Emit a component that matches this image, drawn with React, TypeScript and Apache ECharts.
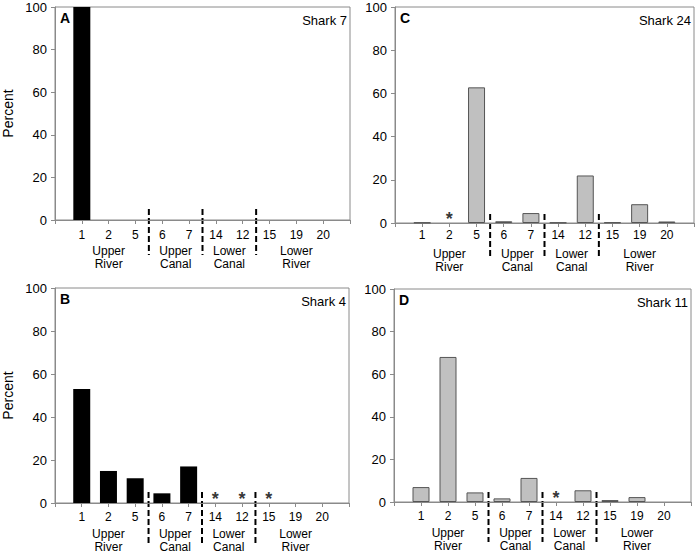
import React, { useEffect, useRef } from "react";
import * as echarts from "echarts";

const categories = ["1", "2", "5", "6", "7", "14", "12", "15", "19", "20"];
const groupNames = ["Upper\nRiver", "Upper\nCanal", "Lower\nCanal", "Lower\nRiver"];
const groupSizes = [3, 2, 2, 3];

const shark7 = [100, 0, 0, 0, 0, 0, 0, 0, 0, 0];
const shark4 = [53.0, 14.9, 11.5, 4.5, 17.0, 0, 0, 0, 0, 0];
const shark24 = [0.2, 0, 62.8, 0.8, 4.6, 0.2, 22.0, 0.3, 8.7, 0.7];
const shark11 = [7.0, 68.1, 4.5, 1.7, 11.3, 0, 5.5, 0.9, 2.3, 0];

const stars7: string[] = [];
const stars4 = ["14", "12", "15"];
const stars24 = ["2"];
const stars11 = ["14"];

const yMin = 0;
const yMax = 100;
const yStep = 20;

const FONT = "Liberation Sans, Arial, Helvetica, sans-serif";
const AXIS_GRAY = "#8a8a8a";

const panels = [
  { letter: "A", title: "Shark 7", values: shark7, stars: stars7, fill: "#000", stroke: "#000", grid: { left: 55, top: 7, width: 295, height: 213 }, yName: "Percent", labelMargin: 9, sep: [-11, 35] },
  { letter: "B", title: "Shark 4", values: shark4, stars: stars4, fill: "#000", stroke: "#000", grid: { left: 53, top: 288, width: 296, height: 215 }, yName: "Percent", labelMargin: 8, sep: [-11, 43] },
  { letter: "C", title: "Shark 24", values: shark24, stars: stars24, fill: "#c0c0c0", stroke: "#555", grid: { left: 395, top: 7, width: 299, height: 216 }, yName: "", labelMargin: 6, sep: [-9, 36] },
  { letter: "D", title: "Shark 11", values: shark11, stars: stars11, fill: "#c0c0c0", stroke: "#555", grid: { left: 394, top: 289, width: 297, height: 213 }, yName: "", labelMargin: 8, sep: [-10, 40] },
];

export default function App() {
  const ref = useRef<HTMLDivElement>(null);
  useEffect(() => {
    if (!ref.current) return;
    const chart = echarts.init(ref.current, null, { renderer: "svg" });
    const option: any = {
      animation: false,
      backgroundColor: "#fff",
      textStyle: { fontFamily: FONT },
      grid: panels.map((p) => ({
        ...p.grid,
        show: true,
        borderColor: AXIS_GRAY,
        borderWidth: 1,
        backgroundColor: "transparent",
        containLabel: false,
      })),
      xAxis: panels.map((p, i) => ({
        type: "value",
        gridIndex: i,
        min: 0,
        max: categories.length + 1,
        interval: 1,
        axisLine: { show: true, lineStyle: { color: AXIS_GRAY, width: 1 } },
        axisTick: { show: true, length: 4, lineStyle: { color: AXIS_GRAY } },
        splitLine: { show: false },
        axisLabel: {
          show: true,
          margin: p.labelMargin,
          fontSize: 12,
          color: "#000",
          fontFamily: FONT,
          formatter: (v: number) => categories[v - 1] ?? "",
        },
      })),
      yAxis: panels.map((p, i) => ({
        type: "value",
        gridIndex: i,
        min: yMin,
        max: yMax,
        interval: yStep,
        name: p.yName,
        nameLocation: "middle",
        nameGap: 40,
        nameTextStyle: { fontSize: 14, color: "#000", fontFamily: FONT },
        axisLine: { show: true, lineStyle: { color: AXIS_GRAY, width: 1 } },
        axisTick: { show: true, length: 4, lineStyle: { color: AXIS_GRAY } },
        splitLine: { show: false },
        axisLabel: { fontSize: 13, color: "#000", margin: 8, fontFamily: FONT },
      })),
      series: panels.flatMap((p, i) => [
        {
          type: "bar",
          xAxisIndex: i,
          yAxisIndex: i,
          barWidth: 17,
          data: p.values.map((v, k) => [k + 1, v === 0 ? "-" : v]),
          itemStyle: { color: p.fill, borderColor: p.stroke, borderWidth: p.fill === "#000" ? 0 : 1 },
        },
        {
          type: "scatter",
          xAxisIndex: i,
          yAxisIndex: i,
          symbolSize: 1,
          itemStyle: { color: "rgba(0,0,0,0)" },
          data: p.stars.map((c) => [categories.indexOf(c) + 1, 0]),
          label: {
            show: true,
            formatter: "*",
            position: "inside",
            offset: [0, -4],
            fontSize: 18,
            fontWeight: "bold",
            color: "#000",
            fontFamily: FONT,
          },
        },
      ]),
    };
    chart.setOption(option);

    const g: any[] = [];
    panels.forEach((p, i) => {
      const tl = chart.convertToPixel({ gridIndex: i } as any, [0, yMax]) as number[];
      const br = chart.convertToPixel({ gridIndex: i } as any, [categories.length + 1, yMin]) as number[];
      const x0 = tl[0];
      const yTop = tl[1];
      const x1 = br[0];
      const y0 = br[1];
      g.push({
        type: "text",
        x: x0 + 5,
        y: yTop + 11,
        style: { text: p.letter, fontSize: 14, fontWeight: "bold", fontFamily: FONT, fill: "#000", align: "left", verticalAlign: "middle" },
      });
      g.push({
        type: "text",
        x: x1 - 3,
        y: yTop + 13,
        style: { text: p.title, fontSize: 13, fontFamily: FONT, fill: "#000", align: "right", verticalAlign: "middle" },
      });
      let cum = 0;
      groupSizes.forEach((n, gi) => {
        const center = cum + (n + 1) / 2;
        const c = chart.convertToPixel({ gridIndex: i } as any, [center, 0]) as number[];
        g.push({
          type: "text",
          x: c[0],
          y: y0 + 24,
          style: { text: groupNames[gi], fontSize: 12, lineHeight: 13, fontFamily: FONT, fill: "#000", align: "center", verticalAlign: "top" },
        });
        cum += n;
        if (gi < groupSizes.length - 1) {
          const s = chart.convertToPixel({ gridIndex: i } as any, [cum + 0.5, 0]) as number[];
          g.push({
            type: "line",
            shape: { x1: s[0], y1: y0 + p.sep[0], x2: s[0], y2: y0 + p.sep[1] },
            style: { stroke: "#000", lineWidth: 2, lineDash: [6, 3] },
          });
        }
      });
    });
    chart.setOption({ graphic: g });

    return () => chart.dispose();
  }, []);
  return <div ref={ref} style={{ position: "absolute", left: 0, top: 0, width: 697, height: 555 }} />;
}
